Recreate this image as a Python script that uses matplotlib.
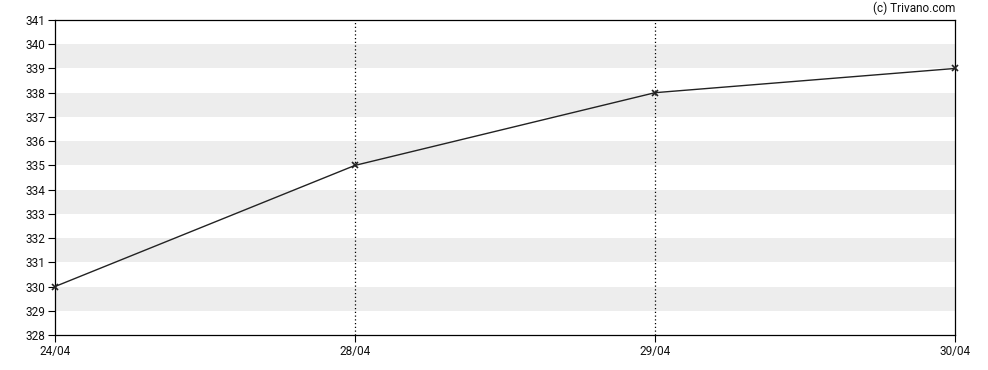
import matplotlib
matplotlib.use("Agg")
import matplotlib.pyplot as plt

dates = ["24/04", "28/04", "29/04", "30/04"]
values = [330, 335, 338, 339]
y_ticks = list(range(328, 342))
band_ranges = [(329, 330), (331, 332), (333, 334), (335, 336), (337, 338), (339, 340)]

plt.rcParams['font.family'] = ['Roboto', 'DejaVu Sans']
fig = plt.figure(figsize=(9.88, 3.70), dpi=100)
ax = fig.add_axes([55/988, 1-335/370, 900/988, 315/370])

xs = list(range(len(dates)))
ax.set_xlim(xs[0], xs[-1])
ax.set_ylim(y_ticks[0], y_ticks[-1])

for lo, hi in band_ranges:
    ax.axhspan(lo, hi, color="#ededed", lw=0, zorder=0)

for x in xs[1:-1]:
    ax.axvline(x, color="black", lw=0.9, ls=(0, (1, 2)), zorder=1)

ax.plot(xs, values, color="#222222", lw=1.0, marker="x", ms=4, mew=1.2, zorder=3, clip_on=False)

ax.set_xticks(xs)
ax.set_xticklabels(dates)
ax.set_yticks(y_ticks)
ax.tick_params(axis="both", labelsize=8.5, length=5, width=0.8, color="black", labelcolor="#111111", pad=2)
for s in ax.spines.values():
    s.set_linewidth(0.9)

fig.text(955/988, 1-8/370, "(c) Trivano.com", ha="right", va="center", fontsize=8.5, color="#111111")

fig.savefig("out.png", dpi=100)
